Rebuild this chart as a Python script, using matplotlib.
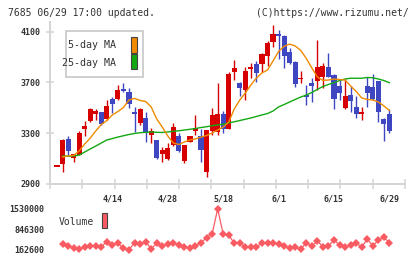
import matplotlib
matplotlib.use("Agg")
import matplotlib.pyplot as plt
from matplotlib.patches import Rectangle
import numpy as np

# 2021/03/31 .. 2021/06/29, one row per trading day
opens = [3042, 3055, 3257, 3107, 3131, 3331, 3396, 3449, 3465, 3410,
         3567, 3570, 3648, 3622, 3470, 3383, 3420, 3288, 3247, 3134,
         3095, 3205, 3278, 3084, 3233, 3320, 3278, 2997, 3320, 3307,
         3449, 3333, 3785, 3696, 3643, 3810, 3843, 3848, 3911, 4021,
         4082, 4066, 3940, 3861, 3725, 3599, 3696, 3714, 3745, 3822,
         3759, 3672, 3501, 3601, 3507, 3455, 3672, 3664, 3711, 3412, 3451]
highs = [3042, 3255, 3276, 3140, 3318, 3396, 3495, 3493, 3470, 3562,
         3588, 3680, 3698, 3659, 3509, 3496, 3465, 3339, 3250, 3189,
         3221, 3383, 3299, 3210, 3282, 3444, 3331, 3328, 3496, 3696,
         3475, 3780, 3877, 3700, 3822, 3856, 3869, 3928, 4029, 4153,
         4113, 4070, 3972, 3865, 3790, 3680, 3738, 4035, 3850, 3932,
         3765, 3719, 3727, 3672, 3593, 3507, 3743, 3767, 3715, 3422, 3491]
lows = [3042, 2997, 3120, 3076, 3125, 3278, 3390, 3402, 3368, 3405,
        3457, 3565, 3627, 3501, 3312, 3365, 3233, 3225, 3097, 3071,
        3092, 3200, 3155, 3068, 3230, 3286, 3071, 2957, 3286, 3286,
        3299, 3330, 3719, 3596, 3564, 3738, 3701, 3785, 3832, 3982,
        3882, 3812, 3848, 3667, 3698, 3522, 3548, 3643, 3660, 3740,
        3491, 3562, 3491, 3470, 3422, 3404, 3509, 3560, 3391, 3241, 3304]
closes = [3042, 3247, 3162, 3136, 3302, 3357, 3491, 3475, 3370, 3515,
          3528, 3638, 3636, 3533, 3455, 3491, 3299, 3320, 3105, 3168,
          3184, 3349, 3158, 3205, 3278, 3339, 3170, 3325, 3444, 3449,
          3333, 3767, 3816, 3659, 3790, 3818, 3777, 3924, 4011, 4082,
          4062, 3911, 3851, 3685, 3738, 3582, 3675, 3822, 3830, 3745,
          3570, 3619, 3593, 3556, 3449, 3468, 3619, 3572, 3470, 3375, 3320]

# moving averages as drawn (from 04/01)
ma5 = [3113, 3121, 3125, 3160, 3215, 3262, 3318, 3369, 3400, 3444,
       3471, 3503, 3562, 3574, 3558, 3550, 3507, 3412, 3349, 3278,
       3223, 3211, 3231, 3247, 3255, 3270, 3282, 3302, 3325, 3349,
       3388, 3491, 3562, 3617, 3680, 3735, 3775, 3798, 3869, 3944,
       3985, 4002, 3987, 3952, 3889, 3814, 3743, 3716, 3719, 3727,
       3723, 3719, 3672, 3629, 3578, 3566, 3562, 3546, 3515, 3479]
ma25 = [3120, 3120, 3120, 3128, 3152, 3176, 3199, 3223, 3247, 3258,
        3270, 3280, 3290, 3298, 3304, 3307, 3310, 3307, 3306, 3310,
        3315, 3319, 3325, 3331, 3337, 3345, 3351, 3359, 3366, 3371,
        3381, 3390, 3400, 3410, 3420, 3432, 3444, 3455, 3475, 3507,
        3526, 3546, 3566, 3585, 3601, 3621, 3645, 3668, 3684, 3698,
        3715, 3727, 3733, 3733, 3733, 3739, 3737, 3727, 3715, 3698]
volume = [332000, 276000, 219000, 185000, 230000, 264000, 276000, 253000, 422000, 309000,
          366000, 197000, 150000, 389000, 343000, 422000, 185000, 366000, 276000, 332000,
          389000, 309000, 253000, 197000, 276000, 389000, 558000, 682000, 1530000, 682000,
          648000, 366000, 366000, 253000, 253000, 230000, 389000, 366000, 366000, 343000,
          276000, 197000, 230000, 163000, 389000, 276000, 445000, 253000, 276000, 479000,
          309000, 230000, 309000, 389000, 230000, 513000, 276000, 479000, 569000, 389000]

date_labels = ["4/14", "4/28", "5/18", "6/1", "6/15", "6/29"]
date_pos = [10, 20, 30, 40, 50, 60]
price_ticks = [2900, 3300, 3700, 4100]
vol_ticks = [162600, 846300, 1530000]

RED = "#d60000"
BLUE = "#3f46c2"
ORANGE = "#f08a00"
GREEN = "#12a812"
GRID = "#d4d4d4"
TXT = "#333333"
VOLC = "#f85c62"
MONO = "DejaVu Sans Mono"

W, H = 420, 259
fig = plt.figure(figsize=(W / 100, H / 100), dpi=100)


def fb(x0, y0, x1, y1):
    return [x0 / W, 1 - y1 / H, (x1 - x0) / W, (y1 - y0) / H]


xl = (-1.264, 62.82)

ax = fig.add_axes(fb(50, 22, 405, 184))
ax.set_xlim(*xl)
ax.set_ylim(2900, 4176)

n = len(closes)
idx = np.arange(n)
o = np.array(opens)
c = np.array(closes)
up = c >= o
cols = np.where(up, RED, BLUE)
ax.vlines(idx, lows, highs, colors=cols, lw=1.0, zorder=3)
body_lo = np.minimum(o, c)
body_h = np.maximum(np.abs(c - o), 14)
body_lo = np.where(np.abs(c - o) < 14, (o + c) / 2 - 7, body_lo)
ax.bar(idx, body_h, bottom=body_lo, width=0.92, color=cols, lw=0, zorder=4)

ma_x = np.arange(1, n)
ax.plot(ma_x, ma25, color=GREEN, lw=1.0, zorder=5)
ax.plot(ma_x, ma5, color=ORANGE, lw=1.0, zorder=5)

for s in ["top", "right"]:
    ax.spines[s].set_visible(False)
for s in ["left", "bottom"]:
    ax.spines[s].set_color(GRID)
    ax.spines[s].set_linewidth(1.4)
ax.set_xticks(np.linspace(xl[0], xl[1], 12))
ax.set_xticklabels([])
ax.tick_params(axis="x", which="major", direction="inout", length=7.2,
               width=1.1, color=GRID)
ax.set_xticks(date_pos, minor=True)
ax.set_xticklabels(date_labels, minor=True)
ax.tick_params(axis="x", which="minor", length=0, pad=7.5,
               labelsize=6, labelcolor=TXT)
ax.set_yticks(price_ticks)
ax.set_yticklabels([str(v) for v in price_ticks])
ax.tick_params(axis="y", direction="inout", length=5.8, width=1.1,
               color=GRID, pad=4, labelsize=6, labelcolor=TXT)
for lab in ax.get_xticklabels(minor=True) + ax.get_yticklabels():
    lab.set_family(MONO)
    lab.set_fontweight("bold")
ax.set_facecolor("none")

# legend box
fig.patches.append(Rectangle((65.7 / W, 1 - 76.7 / H), 77.6 / W, 46 / H,
                             transform=fig.transFigure, facecolor="white",
                             edgecolor="#cccccc", lw=1.3, zorder=10))
fig.patches.append(Rectangle((131 / W, 1 - 52.7 / H), 6 / W, 16 / H,
                             transform=fig.transFigure, facecolor=ORANGE,
                             edgecolor="#444444", lw=0.8, zorder=11))
fig.patches.append(Rectangle((131 / W, 1 - 69.3 / H), 6 / W, 15.3 / H,
                             transform=fig.transFigure, facecolor=GREEN,
                             edgecolor="#444444", lw=0.8, zorder=11))
fig.text(116 / W, 1 - 45.5 / H, "5-day MA", ha="right", va="center",
         family=MONO, fontsize=7.2, color=TXT, zorder=12)
fig.text(116 / W, 1 - 62.5 / H, "25-day MA", ha="right", va="center",
         family=MONO, fontsize=7.2, color=TXT, zorder=12)

# volume panel
vax = fig.add_axes(fb(50, 200, 405, 256))
vax.set_xlim(*xl)
vax.set_ylim(-64700, 1835350)
vax.plot(ma_x, volume, color=VOLC, lw=0.9, marker="D", markersize=4.2,
         markeredgewidth=0, zorder=3)
for s in vax.spines.values():
    s.set_visible(False)
vax.set_xticks([])
vax.set_yticks(vol_ticks)
vax.set_yticklabels([str(v) for v in vol_ticks])
vax.tick_params(axis="y", length=0, pad=4, labelsize=6, labelcolor=TXT)
for lab in vax.get_yticklabels():
    lab.set_family(MONO)
    lab.set_fontweight("bold")
vax.set_facecolor("none")
fig.text(58.5 / W, 1 - 222 / H, "Volume", ha="left", va="center",
         family=MONO, fontsize=7, color=TXT)
fig.patches.append(Rectangle((101.7 / W, 1 - 228.3 / H), 5.6 / W, 15 / H,
                             transform=fig.transFigure, facecolor=VOLC,
                             edgecolor="#444444", lw=0.8))

fig.text(8 / W, 1 - 13.5 / H, "7685 06/29 17:00 updated.", ha="left",
         va="center", family=MONO, fontsize=7, color=TXT)
fig.text(409 / W, 1 - 13.5 / H, "(C)https://www.rizumu.net/", ha="right",
         va="center", family=MONO, fontsize=7, color=TXT)

fig.savefig("out.png", dpi=100)
